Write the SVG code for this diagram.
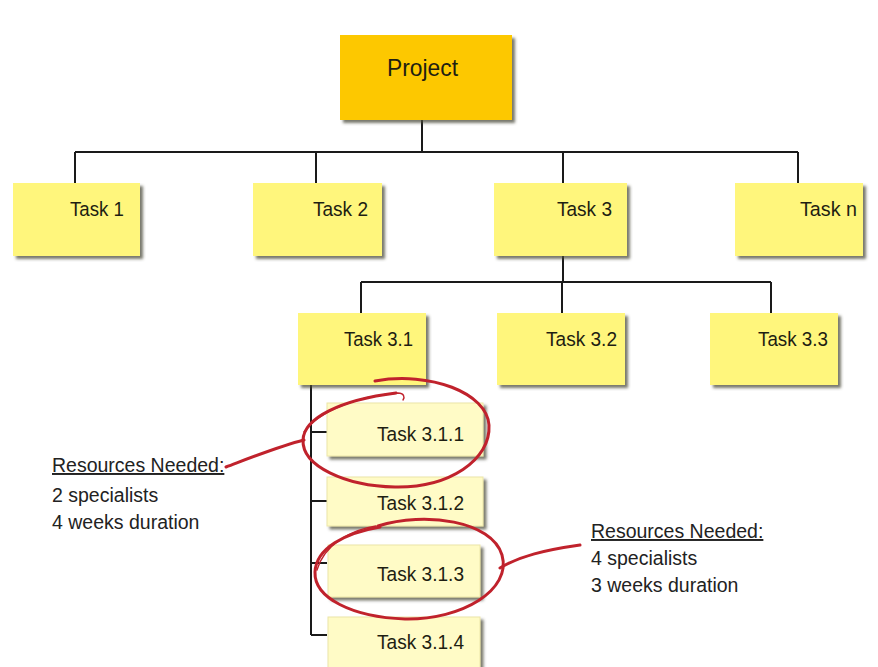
<svg xmlns="http://www.w3.org/2000/svg" width="878" height="667" viewBox="0 0 878 667">
  <defs>
    <filter id="shadow" x="-10%" y="-10%" width="130%" height="140%">
      <feDropShadow dx="3" dy="3" stdDeviation="1.6" flood-color="#4a4a3a" flood-opacity="0.75"/>
    </filter>
    <style>
      .lbl { font-family: "Liberation Sans", Arial, sans-serif; font-size: 20.5px; fill: #1e1e12; text-anchor: end; }
      .proj { fill: #fdc800; filter: url(#shadow); }
      .task { fill: #fff67c; filter: url(#shadow); }
      .sub { fill: #fffbc6; stroke: #ece6a8; stroke-width: 1; filter: url(#shadow); }
      .wire { stroke: #1a1a1a; stroke-width: 2; fill: none; }
      .ink { stroke: #c0222c; stroke-width: 3; fill: none; stroke-linecap: round; stroke-linejoin: round; }
      .note { font-family: "Liberation Sans", Arial, sans-serif; font-size: 19.5px; fill: #222; }
    </style>
  </defs>
  <rect width="878" height="667" fill="#ffffff"/>

  <!-- tree connectors -->
  <g id="connectors">
    <path class="wire" d="M422,120 V152 M75,152 H798 M75,152 V183 M316,152 V183 M563,152 V183 M798,152 V183"/>
    <path class="wire" d="M563,256 V282 M361,282 H771 M361,282 V313 M562,282 V313 M771,282 V313"/>
    <path class="wire" d="M311,385 V635 M311,432 H327 M311,501 H327 M311,563 H327 M311,635 H327"/>
  </g>

  <!-- top level -->
  <g id="project">
    <rect class="proj" x="340" y="35" width="172" height="85"/>
    <text class="lbl" x="387" y="76" style="text-anchor: start; font-size: 24px;" textLength="71" lengthAdjust="spacingAndGlyphs">Project</text>
  </g>

  <!-- level 1 -->
  <g id="task-1">
    <rect class="task" x="13" y="183" width="127" height="73"/>
    <text class="lbl" x="124" y="216" textLength="54" lengthAdjust="spacingAndGlyphs">Task 1</text>
  </g>
  <g id="task-2">
    <rect class="task" x="253" y="183" width="129" height="73"/>
    <text class="lbl" x="368" y="216" textLength="55" lengthAdjust="spacingAndGlyphs">Task 2</text>
  </g>
  <g id="task-3">
    <rect class="task" x="494" y="183" width="133" height="73"/>
    <text class="lbl" x="612" y="216" textLength="55" lengthAdjust="spacingAndGlyphs">Task 3</text>
  </g>
  <g id="task-n">
    <rect class="task" x="735" y="183" width="128" height="73"/>
    <text class="lbl" x="857" y="216" textLength="57" lengthAdjust="spacingAndGlyphs">Task n</text>
  </g>

  <!-- level 2 -->
  <g id="task-3-1">
    <rect class="task" x="298" y="313" width="128" height="72"/>
    <text class="lbl" x="413" y="346" textLength="69" lengthAdjust="spacingAndGlyphs">Task 3.1</text>
  </g>
  <g id="task-3-2">
    <rect class="task" x="497" y="313" width="128" height="72"/>
    <text class="lbl" x="617" y="346" textLength="71" lengthAdjust="spacingAndGlyphs">Task 3.2</text>
  </g>
  <g id="task-3-3">
    <rect class="task" x="710" y="313" width="128" height="72"/>
    <text class="lbl" x="828" y="346" textLength="70" lengthAdjust="spacingAndGlyphs">Task 3.3</text>
  </g>

  <!-- level 3 -->
  <g id="task-3-1-1">
    <rect class="sub" x="327" y="403" width="156" height="53"/>
    <text class="lbl" x="464" y="441" textLength="87" lengthAdjust="spacingAndGlyphs">Task 3.1.1</text>
  </g>
  <g id="task-3-1-2">
    <rect class="sub" x="327" y="477" width="156" height="49"/>
    <text class="lbl" x="464" y="510" textLength="87" lengthAdjust="spacingAndGlyphs">Task 3.1.2</text>
  </g>
  <g id="task-3-1-3">
    <rect class="sub" x="328" y="545" width="152" height="52"/>
    <text class="lbl" x="464" y="581" textLength="87" lengthAdjust="spacingAndGlyphs">Task 3.1.3</text>
  </g>
  <g id="task-3-1-4">
    <rect class="sub" x="328" y="617" width="152" height="56"/>
    <text class="lbl" x="464" y="649" textLength="87" lengthAdjust="spacingAndGlyphs">Task 3.1.4</text>
  </g>

  <!-- hand-drawn markup -->
  <g id="markup">
    <path class="ink" d="M375,381 C430,371 487,393 489,425 C491,460 449,488 395,487 C345,486 302,466 303,440 C304,418 340,400 396,393"/>
    <path class="ink" style="stroke-width:1.4" d="M304,432 C320,410 360,396 398,393 C404,393 405,397 403,400"/>
    <path class="ink" d="M226,467 C255,456 280,446 304,440"/>
    <path class="ink" d="M378,526 C425,511 492,521 502,555 C512,590 462,620 405,619 C352,617 314,598 315,572 C316,548 345,533 380,527"/>
    <path class="ink" style="stroke-width:1.4" d="M317,570 C324,545 350,530 376,526"/>
    <path class="ink" d="M500,568 C520,556 545,550 580,545"/>
  </g>

  <g id="note-left">
    <text class="note" x="52" y="472" style="text-decoration: underline;">Resources Needed:</text>
    <text class="note" x="52" y="502">2 specialists</text>
    <text class="note" x="52" y="529">4 weeks duration</text>
  </g>
  <g id="note-right">
    <text class="note" x="591" y="538" style="text-decoration: underline;">Resources Needed:</text>
    <text class="note" x="591" y="565">4 specialists</text>
    <text class="note" x="591" y="592">3 weeks duration</text>
  </g>
</svg>
